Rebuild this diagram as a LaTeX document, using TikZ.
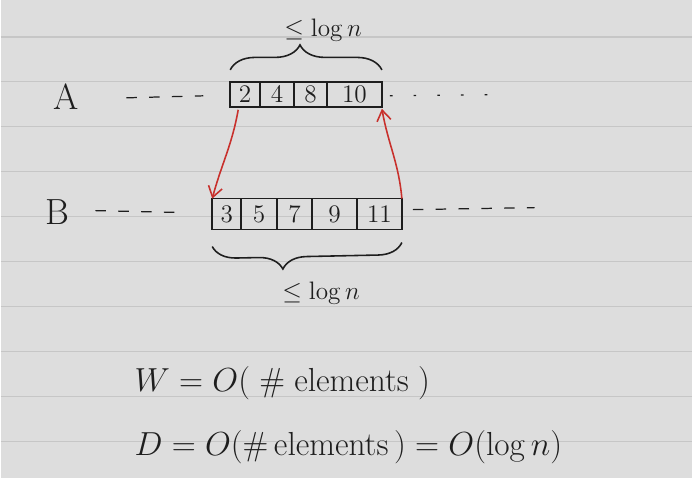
\RequirePackage{fix-cm}
\documentclass[tikz,border=0pt]{standalone}
\usetikzlibrary{positioning,arrows.meta,decorations.pathreplacing}

\definecolor{paper}{HTML}{DDDDDD}
\definecolor{ruling}{HTML}{C6C6C6}
\definecolor{ink}{HTML}{1E1E1E}
\definecolor{redink}{HTML}{C8302C}

\tikzset{
    ruleline/.style={ruling, line width=0.7pt},
    cell/.style={draw=ink, line width=0.9pt, minimum height=0.5cm, inner sep=0pt, outer sep=0pt, text=ink, font=\Large},
    letter/.style={text=ink, font=\huge},
    trail/.style={ink, line width=0.7pt, dash pattern=on 6pt off 7pt},
    curly/.style={ink, line width=0.9pt, decorate},
    bound/.style={text=ink, font=\Large},
    jump/.style={redink, line width=0.9pt, -{Straight Barb[length=6pt,width=8pt]}},
    formula/.style={text=ink, anchor=west, font=\fontsize{19}{23}\selectfont}
}

\begin{document}
\begin{tikzpicture}[x=0.02cm, y=-0.02cm]
    % Paper with ruled lines
    \fill[paper] (0,0) rectangle (693,479);
    \foreach \y in {37,82,127,172,217,262,307,352,397,442}
        \draw[ruleline] (0,\y) -- (693,\y);
    \useasboundingbox (0,0) rectangle (693,479);

    % Names of the two arrays
    \node[letter] (nameA) at (66,97) {A};
    \node[letter] (nameB) at (57,212) {B};

    % Array A
    \node[cell, minimum width=0.6cm] (a1) at (245,94.5) {2};
    \node[cell, minimum width=0.68cm, right=0pt of a1] (a2) {4};
    \node[cell, minimum width=0.66cm, right=0pt of a2] (a3) {8};
    \node[cell, minimum width=1.1cm, right=0pt of a3] (a4) {10};

    % Array B
    \node[cell, minimum height=0.62cm, minimum width=0.58cm] (b1) at (226.5,214.5) {3};
    \node[cell, minimum height=0.62cm, minimum width=0.72cm, right=0pt of b1] (b2) {5};
    \node[cell, minimum height=0.62cm, minimum width=0.7cm, right=0pt of b2] (b3) {7};
    \node[cell, minimum height=0.62cm, minimum width=0.9cm, right=0pt of b3] (b4) {9};
    \node[cell, minimum height=0.62cm, minimum width=0.9cm, right=0pt of b4] (b5) {11};

    % The rest of each array
    \coordinate (aL1) at (126,98);
    \coordinate (aL2) at (203,96);
    \coordinate (aR1) at (390,96);
    \coordinate (aR2) at (488,95);
    \coordinate (bL1) at (95,211);
    \coordinate (bL2) at (186,213);
    \coordinate (bR1) at (413,210);
    \coordinate (bR2) at (535,208);
    \draw[trail] (aL1) -- (aL2);
    \draw[trail, dash pattern=on 1.5pt off 12pt] (aR1) -- (aR2);
    \draw[trail] (bL1) -- (bL2);
    \draw[trail] (bR1) -- (bR2);

    % Braces with their sizes
    \draw[curly, decoration={brace, amplitude=0.5cm, aspect=0.46}]
        ([yshift=0.24cm]a1.north west) -- ([yshift=0.24cm]a4.north east);
    \draw[curly, decoration={brace, mirror, amplitude=0.48cm, aspect=0.37}]
        ([yshift=-0.34cm]b1.south west) -- ([yshift=-0.26cm]b5.south east);
    \node[bound] (sizeA) at (323,30) {$\leq\log n$};
    \node[bound] (sizeB) at (321,294) {$\leq\log n$};

    % Red arrows between the arrays
    \draw[jump] ([xshift=0.16cm, yshift=-0.06cm]a1.south west) to[out=-100, in=75] (b1.north west);
    \draw[jump] (b5.north east) to[out=95, in=-80] ([yshift=-0.04cm]a4.south east);

    % Work and depth
    \node[formula] (work) at (128,384) {$W = O(\;\#\;\mathrm{elements}\;)$};
    \node[formula] (depth) at (128,448) {$D = O(\#\,\mathrm{elements}\,) = O(\log n)$};
\end{tikzpicture}
\end{document}
